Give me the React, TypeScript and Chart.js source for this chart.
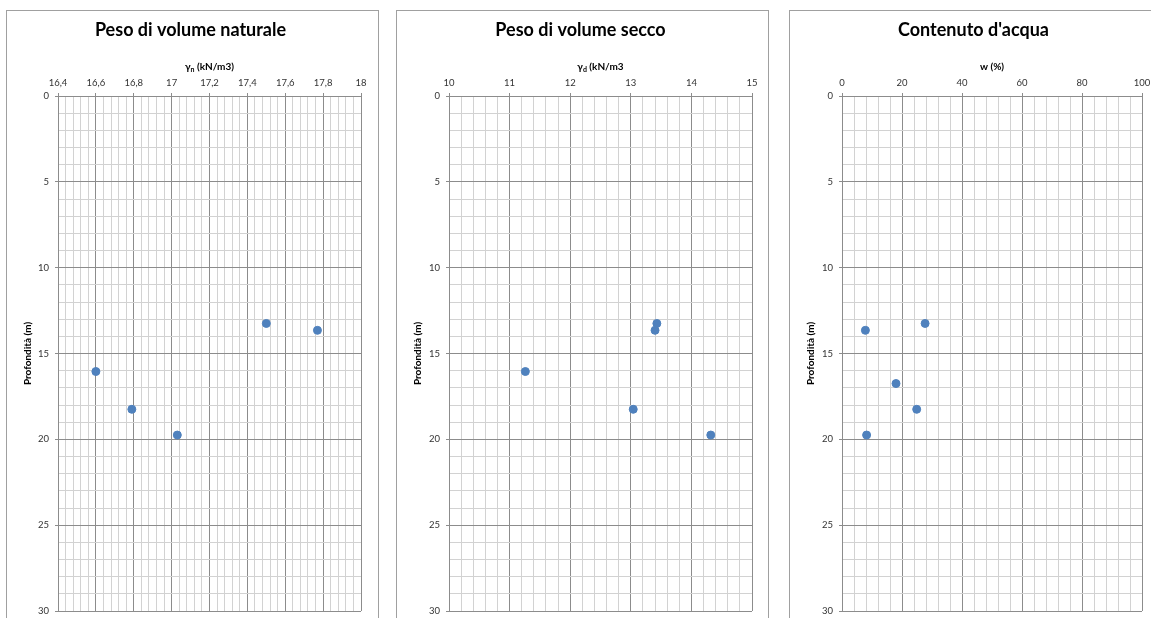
import React, { useEffect, useRef } from 'react';
import { Chart, registerables } from 'chart.js';
Chart.register(...registerables);

const FONT = 'Lato, "Open Sans", "DejaVu Sans", sans-serif';

// ---- data ----
const natDepth = [13.25, 13.65, 16.05, 18.25, 19.75];
const natGamma = [17.5, 17.77, 16.6, 16.79, 17.03];
const dryDepth = [13.25, 13.65, 16.05, 18.25, 19.75];
const dryGamma = [13.43, 13.4, 11.26, 13.04, 14.32];
const wDepth = [13.25, 13.65, 16.75, 18.25, 19.75];
const wValue = [27.7, 7.8, 18.0, 24.9, 8.2];

const titles = ['Peso di volume naturale', 'Peso di volume secco', "Contenuto d'acqua"];
const xTitleMain = ['γ', 'γ', 'w (%)'];
const xTitleSub = ['n', 'd', ''];
const xTitleRest = [' (kN/m3)', ' (kN/m3', ''];
const xMins = [16.4, 10, 0];
const xMaxs = [18, 15, 100];
const xMinorSteps = [0.04, 0.2, 4];
const yTitle = 'Profondità (m)';
const depthMin = 0;
const depthMax = 30;
const depthMinorStep = 1;
const majorEvery = 5;

const seriesX = [natGamma, dryGamma, wValue];
const seriesY = [natDepth, dryDepth, wDepth];

// ---- layout ----
const panelLeft = [6, 396, 789];
const panelWidth = 373;
const yAxisW = [51, 52, 52];
const padRight = [17, 16, 19];
const LAYOUT_PAD_RIGHT = 4;

const MAJOR = '#8c8c8c';
const MINOR = '#d2d2d2';
const TITLE_SIZE = 18;
const TICK_SIZE = 9.5;
const AXIS_TITLE_SIZE = 10;

const fmt = (v: number) => String(Math.round(v * 100) / 100).replace('.', ',');

const buildTicks = (min: number, max: number, step: number) => (scale: any) => {
  const n = Math.round((max - min) / step);
  const t = [];
  for (let i = 0; i <= n; i++) t.push({ value: min + i * step });
  scale.ticks = t;
};

function Panel({ idx }: { idx: number }) {
  const ref = useRef<HTMLCanvasElement>(null);
  useEffect(() => {
    const xs = seriesX[idx];
    const ys = seriesY[idx];
    const xTitlePlugin = {
      id: 'xTitleSub',
      afterDraw(chart: any) {
        const { ctx, chartArea } = chart;
        const main = xTitleMain[idx];
        const sub = xTitleSub[idx];
        const rest = xTitleRest[idx];
        ctx.save();
        ctx.fillStyle = '#000';
        ctx.textBaseline = 'middle';
        ctx.textAlign = 'left';
        const mainFont = `bold ${AXIS_TITLE_SIZE}px ${FONT}`;
        const subFont = `bold ${AXIS_TITLE_SIZE * 0.7}px ${FONT}`;
        ctx.font = mainFont;
        const w1 = ctx.measureText(main).width;
        const w3 = ctx.measureText(rest).width;
        ctx.font = subFont;
        const w2 = sub ? ctx.measureText(sub).width : 0;
        const total = w1 + w2 + w3;
        const cx = (chartArea.left + chartArea.right) / 2;
        const y = chartArea.top - 29;
        let x = cx - total / 2;
        ctx.font = mainFont;
        ctx.fillText(main, x, y);
        x += w1;
        if (sub) {
          ctx.font = subFont;
          ctx.fillText(sub, x, y + 2.5);
          x += w2;
        }
        ctx.font = mainFont;
        ctx.fillText(rest, x, y);
        ctx.restore();
      },
    };
    const chart = new Chart(ref.current!, {
      type: 'scatter',
      data: {
        datasets: [
          {
            data: xs.map((x, i) => ({ x, y: ys[i] })),
            backgroundColor: '#4f81bd',
            borderColor: '#4f81bd',
            pointRadius: 4,
            pointHoverRadius: 4,
            borderWidth: 1,
          },
        ],
      },
      options: {
        responsive: false,
        animation: false,
        layout: { padding: { left: 0, right: LAYOUT_PAD_RIGHT, top: 0, bottom: 20 } },
        plugins: {
          legend: { display: false },
          tooltip: { enabled: false },
          title: {
            display: true,
            text: titles[idx],
            color: '#000',
            font: { family: FONT, size: TITLE_SIZE, weight: 'bold' },
            padding: { top: 8.2, bottom: 0 },
          },
        },
        scales: {
          x: {
            type: 'linear',
            position: 'top',
            min: xMins[idx],
            max: xMaxs[idx],
            afterBuildTicks: buildTicks(xMins[idx], xMaxs[idx], xMinorSteps[idx]),
            afterFit: (s: any) => {
              s.height = 55.2;
            },
            ticks: {
              autoSkip: false,
              maxRotation: 0,
              minRotation: 0,
              padding: 4,
              color: '#333',
              font: { family: FONT, size: TICK_SIZE },
              callback: (v: any, i: number) => (i % majorEvery === 0 ? fmt(Number(v)) : ''),
            },
            grid: {
              color: (c: any) => (c.index % majorEvery === 0 ? MAJOR : MINOR),
              tickColor: (c: any) => (c.index % majorEvery === 0 ? MAJOR : 'rgba(0,0,0,0)'),
              tickLength: 3,
              lineWidth: 1,
            },
            border: { display: true, color: MAJOR },
          },
          y: {
            type: 'linear',
            reverse: true,
            min: depthMin,
            max: depthMax,
            afterBuildTicks: buildTicks(depthMin, depthMax, depthMinorStep),
            afterFit: (s: any) => {
              s.width = yAxisW[idx];
            },
            title: {
              display: true,
              text: yTitle,
              color: '#000',
              font: { family: FONT, size: AXIS_TITLE_SIZE, weight: 'bold' },
              padding: { top: 15, bottom: 0 },
            },
            ticks: {
              autoSkip: false,
              padding: 6,
              color: '#333',
              font: { family: FONT, size: TICK_SIZE },
              callback: (v: any, i: number) => (i % majorEvery === 0 ? fmt(Number(v)) : ''),
            },
            grid: {
              color: (c: any) => (c.index % majorEvery === 0 ? MAJOR : MINOR),
              tickColor: (c: any) => (c.index % majorEvery === 0 ? MAJOR : 'rgba(0,0,0,0)'),
              tickLength: 3,
              lineWidth: 1,
            },
            border: { display: true, color: MAJOR },
          },
          ySpacer: {
            type: 'linear',
            position: 'right',
            min: depthMin,
            max: depthMax,
            afterFit: (s: any) => {
              s.width = padRight[idx] - LAYOUT_PAD_RIGHT;
            },
            ticks: { display: false },
            grid: { display: false, drawTicks: false },
            border: { display: false },
          },
        },
      } as any,
      plugins: [xTitlePlugin],
    });
    return () => chart.destroy();
  }, [idx]);

  const L = panelLeft[idx];
  return (
    <>
      <div
        style={{
          position: 'absolute',
          left: L,
          top: 10,
          width: panelWidth,
          height: 700,
          boxSizing: 'border-box',
          border: '1px solid #a0a0a0',
        }}
      />
      <canvas
        ref={ref}
        width={panelWidth - 2}
        height={620}
        style={{ position: 'absolute', left: L + 1, top: 11, width: panelWidth - 2, height: 620 }}
      />
    </>
  );
}

export default function App() {
  return (
    <div
      style={{
        position: 'fixed',
        left: 0,
        top: 0,
        width: 1151,
        height: 618,
        overflow: 'hidden',
        background: '#fff',
      }}
    >
      <Panel idx={0} />
      <Panel idx={1} />
      <Panel idx={2} />
    </div>
  );
}
